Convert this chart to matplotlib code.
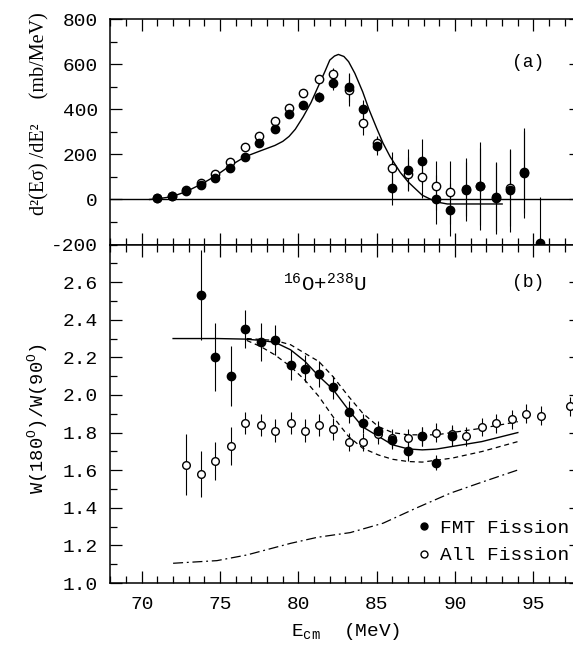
import matplotlib
matplotlib.use("Agg")
import matplotlib.pyplot as plt
from matplotlib.lines import Line2D
from matplotlib.ticker import MultipleLocator

plt.rcParams['font.family'] = ['Liberation Mono', 'DejaVu Sans']
plt.rcParams['mathtext.default'] = 'regular'
plt.rcParams['axes.unicode_minus'] = False

# --- (a) energy distribution d2(E sigma)/dE2 ---
E_a = [71.0, 71.9, 72.8, 73.8, 74.7, 75.6, 76.6, 77.5, 78.5, 79.4, 80.3, 81.3, 82.2,
       83.2, 84.1, 85.0, 86.0, 87.0, 87.9, 88.8, 89.7, 90.7, 91.6, 92.6, 93.5, 94.4, 95.4]
fmt_a = [5, 15, 36, 63, 96, 140, 190, 250, 315, 379, 418, 456, 518,
         498, 400, 237, 52, 133, 169, 0, -46, 43, 58, 7, 40, 117, -193]
fmt_a_err = [5, 6, 8, 8, 10, 10, 12, 12, 14, 15, 18, 22, 30,
             65, 40, 40, 75, 90, 100, 107, 117, 140, 195, 160, 185, 200, 205]

E_a_all = E_a[:26]
all_a = [5, 15, 40, 72, 112, 167, 231, 281, 349, 407, 472, 533, 557,
         486, 338, 252, 138, 112, 100, 62, 31, 48, 58, 12, 50, 122]
all_a_err = [5, 6, 8, 8, 10, 10, 12, 12, 14, 15, 18, 17, 25,
             70, 50, 30, 72, 75, 95, 108, 139, 120, 170, 150, 170, 180]

curve_a_E = [70.5, 71.0, 71.9, 72.8, 73.8, 74.7, 75.6, 76.6, 77.5, 78.5, 79.0, 79.4, 79.8,
             80.3, 80.8, 81.3, 81.7, 82.0, 82.3, 82.55, 82.9, 83.2, 83.6, 84.1, 84.5,
             85.0, 85.4, 85.85, 86.5, 87.0, 87.5, 87.9, 88.4, 88.8, 89.5, 93.0]
curve_a = [0, 3, 12, 34, 68, 104, 148, 190, 214, 240, 258, 280, 312,
           367, 430, 508, 570, 619, 637, 644, 635, 612, 560, 478, 400,
           315, 250, 190, 120, 78, 45, 19, 2, -11, -20, -20]

# --- (b) anisotropy W(180)/W(90) ---
E_b = [73.8, 74.7, 75.7, 76.6, 77.6, 78.5, 79.5, 80.4, 81.3, 82.2, 83.2, 84.1,
       85.1, 86.0, 87.0, 87.9, 88.8, 89.8]
fmt_b = [2.53, 2.20, 2.10, 2.35, 2.28, 2.29, 2.16, 2.14, 2.11, 2.04, 1.91, 1.85,
         1.81, 1.76, 1.70, 1.78, 1.64, 1.78]
fmt_b_err = [0.24, 0.18, 0.16, 0.10, 0.10, 0.08, 0.08, 0.07, 0.07, 0.06, 0.06, 0.05,
             0.05, 0.05, 0.05, 0.05, 0.04, 0.05]

E_b_all = [72.8, 73.8, 74.7, 75.7, 76.6, 77.6, 78.5, 79.5, 80.4, 81.3, 82.2, 83.2, 84.1,
           85.1, 86.0, 87.0, 87.9, 88.8, 89.8, 90.7, 91.7, 92.6, 93.6, 94.5, 95.5, 97.3]
all_b = [1.63, 1.58, 1.65, 1.73, 1.85, 1.84, 1.81, 1.85, 1.81, 1.84, 1.82, 1.75, 1.75,
         1.79, 1.77, 1.77, 1.78, 1.80, 1.79, 1.78, 1.83, 1.85, 1.87, 1.90, 1.89, 1.94]
all_b_err = [0.16, 0.12, 0.10, 0.10, 0.06, 0.06, 0.06, 0.06, 0.06, 0.06, 0.06, 0.05, 0.05,
             0.05, 0.05, 0.05, 0.05, 0.05, 0.05, 0.05, 0.05, 0.05, 0.05, 0.05, 0.05, 0.05]

fit_E = [72.0, 74.8, 76.6, 77.6, 78.5, 79.5, 80.4, 81.3, 82.2, 83.2, 84.1, 85.1,
         86.0, 87.0, 87.9, 88.8, 89.8, 91.7, 94.0]
fit_W = [2.30, 2.30, 2.297, 2.29, 2.28, 2.24, 2.18, 2.10, 2.03, 1.92, 1.83, 1.78,
         1.735, 1.713, 1.708, 1.712, 1.726, 1.752, 1.80]

up_E = [76.7, 78.5, 79.5, 80.4, 81.3, 82.2, 83.2, 84.1, 85.1, 86.0, 87.0, 88.8, 91.7, 94.0]
up_W = [2.30, 2.29, 2.267, 2.222, 2.178, 2.098, 1.992, 1.903, 1.832, 1.800, 1.788,
        1.788, 1.823, 1.858]

lo_E = [76.7, 77.6, 78.5, 79.5, 80.4, 81.3, 82.2, 83.2, 84.1, 85.1, 86.0, 87.0, 87.9,
        89.8, 91.7, 94.0]
lo_W = [2.29, 2.257, 2.213, 2.151, 2.080, 1.992, 1.885, 1.779, 1.717, 1.681, 1.658,
        1.646, 1.643, 1.664, 1.699, 1.752]

dd_E = [72.0, 74.8, 76.7, 79.5, 81.2, 83.3, 85.4, 87.5, 89.7, 91.8, 94.0]
dd_W = [1.105, 1.119, 1.149, 1.211, 1.243, 1.268, 1.318, 1.398, 1.478, 1.539, 1.601]

fig = plt.figure(figsize=(5.73, 6.46), dpi=100)
left, width = 0.1927, 0.8204
ax1 = fig.add_axes([left, 0.6215, width, 0.3486])
ax2 = fig.add_axes([left, 0.0975, width, 0.524])

ms = 6
ebkw = dict(ls='none', elinewidth=0.8, capsize=0, ecolor='black')

# panel (a)
ax1.axhline(0, color='black', lw=1.0)
ax1.errorbar(E_a_all, all_a, yerr=all_a_err, marker='o', ms=ms, mfc='white',
             mec='black', mew=1.0, **ebkw)
ax1.errorbar(E_a, fmt_a, yerr=fmt_a_err, marker='o', ms=ms, mfc='black',
             mec='black', **ebkw)
ax1.plot(curve_a_E, curve_a, color='black', lw=1.0)
ax1.text(94.65, 610, '(a)', ha='center', va='center', fontsize=13)

ax1.set_xlim(68, 98)
ax1.set_ylim(-200, 800)
ax1.yaxis.set_major_locator(MultipleLocator(200))
ax1.yaxis.set_minor_locator(MultipleLocator(100))
ax1.tick_params(labelbottom=False)
ax1.set_ylabel('d²(Eσ) /dE²     (mb/MeV)', family='Liberation Serif',
               fontsize=14.5, va='center')
ax1.yaxis.set_label_coords(-0.15, 0.58)

# panel (b)
ax2.errorbar(E_b_all, all_b, yerr=all_b_err, marker='o', ms=ms - 0.5, mfc='white',
             mec='black', mew=1.0, **ebkw)
ax2.errorbar(E_b, fmt_b, yerr=fmt_b_err, marker='o', ms=ms, mfc='black',
             mec='black', **ebkw)
ax2.plot(fit_E, fit_W, color='black', lw=1.0)
ax2.plot(up_E, up_W, color='black', lw=0.9, dashes=(4, 3))
ax2.plot(lo_E, lo_W, color='black', lw=0.9, dashes=(4, 3))
ax2.plot(dd_E, dd_W, color='black', lw=0.9, dashes=(8, 3, 1.5, 3))
ax2.text(79.0, 2.59, '$^{16}$O+$^{238}$U', ha='left', va='center', fontsize=15)
ax2.text(94.65, 2.596, '(b)', ha='center', va='center', fontsize=13)

handles = [Line2D([], [], ls='none', marker='o', ms=5, mfc='black', mec='black'),
           Line2D([], [], ls='none', marker='o', ms=5, mfc='white', mec='black')]
ax2.legend(handles, ['FMT Fission', 'All Fission'], loc='upper left',
           bbox_to_anchor=(0.650, 0.188), frameon=False, fontsize=14,
           handlelength=0.8, handletextpad=0.42, borderpad=0, borderaxespad=0,
           labelspacing=0.5)

ax2.set_xlim(68, 98)
ax2.set_ylim(1.0, 2.8)
ax2.set_yticks([1.0, 1.2, 1.4, 1.6, 1.8, 2.0, 2.2, 2.4, 2.6])
ax2.set_yticklabels(['1.0', '1.2', '1.4', '1.6', '1.8', '2.0', '2.2', '2.4', '2.6'])
ax2.yaxis.set_minor_locator(MultipleLocator(0.1))
ax2.set_ylabel('W(180$^{O}$)/W(90$^{O}$)', fontsize=13.5, va='center')
ax2.yaxis.set_label_coords(-0.154, 0.487)
ax2.set_xlabel('E$_{cm}$  (MeV)', fontsize=14, labelpad=6)

for ax in (ax1, ax2):
    ax.xaxis.set_major_locator(MultipleLocator(5))
    ax.xaxis.set_minor_locator(MultipleLocator(1))
    ax.tick_params(which='both', direction='in', top=True, right=True,
                   labelsize=14, pad=9, width=0.9)
    ax.tick_params(which='major', length=8.5)
    ax.tick_params(which='minor', length=5)
    for s in ax.spines.values():
        s.set_linewidth(1.1)

fig.savefig('out.png', dpi=100)
